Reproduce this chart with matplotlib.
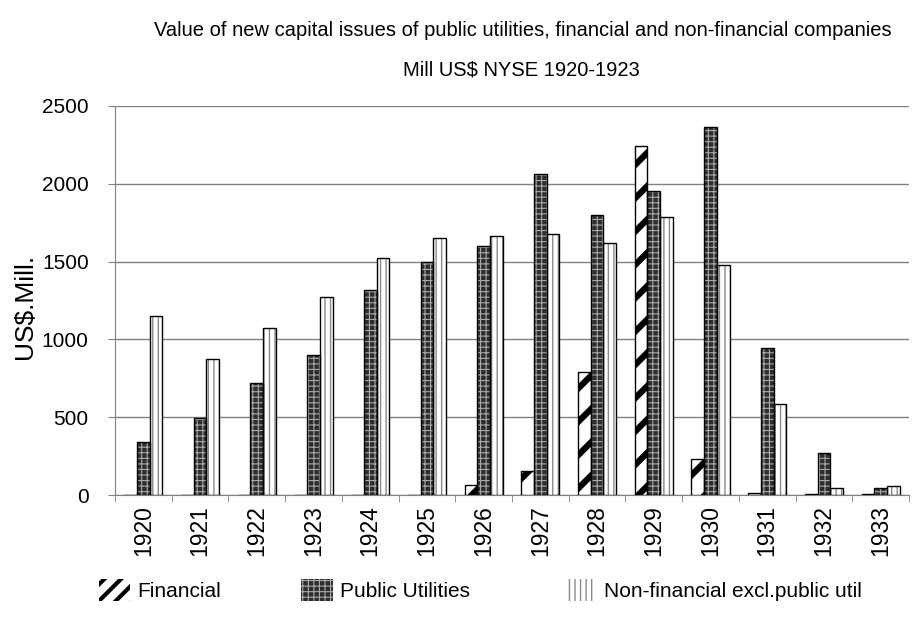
import matplotlib
matplotlib.use('Agg')
import matplotlib.pyplot as plt
import numpy as np
from matplotlib.patches import Patch

# data (Mill US$)
years = ['1920', '1921', '1922', '1923', '1924', '1925', '1926',
         '1927', '1928', '1929', '1930', '1931', '1932', '1933']
financial = [0, 0, 0, 0, 0, 0, 68, 154, 788, 2243, 229, 15, 10, 5]
public_util = [339, 493, 718, 900, 1315, 1500, 1598, 2061, 1797, 1951, 2367, 943, 268, 43]
non_financial = [1152, 872, 1075, 1275, 1523, 1654, 1667, 1680, 1620, 1789, 1480, 583, 43, 60]
yticks = [0, 500, 1000, 1500, 2000, 2500]

plt.rcParams['font.family'] = ['Liberation Sans', 'DejaVu Sans']

fig = plt.figure(figsize=(9.13, 6.26), dpi=100)
ax = fig.add_axes([0.126, 0.209, 0.8696, 0.622])

x = np.arange(len(years))
w = 0.224

# (face, hatch colour, hatch, hatch linewidth)
styles = {
    'fin': ('white', 'black', '/', 4.5),
    'pu': ('#2e2e2e', '#a8a8a8', '+++', 0.8),
    'nf': ('white', '#8a8a8a', '|||', 1.0),
}


def hatched_bars(xpos, vals, key):
    face, hcol, hatch, hlw = styles[key]
    with plt.rc_context({'hatch.linewidth': hlw}):
        ax.bar(xpos, vals, w, color=face, edgecolor=hcol, hatch=hatch,
               linewidth=0, zorder=2)
    ax.bar(xpos, vals, w, fill=False, edgecolor='black', linewidth=1, zorder=3)


hatched_bars(x - w, financial, 'fin')
hatched_bars(x, public_util, 'pu')
hatched_bars(x + w, non_financial, 'nf')

ax.set_xlim(-0.5, len(years) - 0.5)
ax.set_ylim(0, 2500)
ax.set_yticks(yticks)
ax.yaxis.grid(True, color='#808080', linewidth=1)
ax.set_axisbelow(True)
for s in ['top', 'right']:
    ax.spines[s].set_visible(False)
for s in ['left', 'bottom']:
    ax.spines[s].set_color('#808080')

ax.set_xticks(x)
ax.set_xticklabels(years, rotation=90, fontsize=16.5)
ax.set_xticks(np.arange(len(years) + 1) - 0.5, minor=True)
ax.tick_params(axis='x', which='major', length=0, pad=7)
ax.tick_params(axis='x', which='minor', length=5, color='#808080')
ax.tick_params(axis='y', length=5, color='#808080', labelsize=15, pad=14)

fig.text(0.573, 0.952, 'Value of new capital issues of public utilities, financial and non-financial companies',
         ha='center', va='center', fontsize=14.5)
fig.text(0.571, 0.888, 'Mill US$ NYSE 1920-1923', ha='center', va='center', fontsize=14.5)

fig.text(0.027, 0.51, 'US$.Mill.', rotation=90, ha='center', va='center', fontsize=19)

# legend entries placed separately like the original
labels = ['Financial', 'Public Utilities', 'Non-financial excl.public util']
leg_hatch = {'fin': ('//', 3.0), 'pu': ('+++', 0.8), 'nf': ('|||', 1.0)}
leg_x = [0.108, 0.330, 0.619]
for label, key, xpos in zip(labels, ['fin', 'pu', 'nf'], leg_x):
    face, hcol = styles[key][:2]
    hatch, hlw = leg_hatch[key]
    with plt.rc_context({'hatch.linewidth': hlw}):
        h = Patch(facecolor=face, edgecolor=hcol, hatch=hatch, linewidth=0)
        fig.legend([h], [label], loc='center left', bbox_to_anchor=(xpos, 0.057),
                   frameon=False, fontsize=15, handlelength=1.5, handleheight=1.25,
                   handletextpad=0.35, borderpad=0, borderaxespad=0)

fig.savefig('out.png', dpi=100)
